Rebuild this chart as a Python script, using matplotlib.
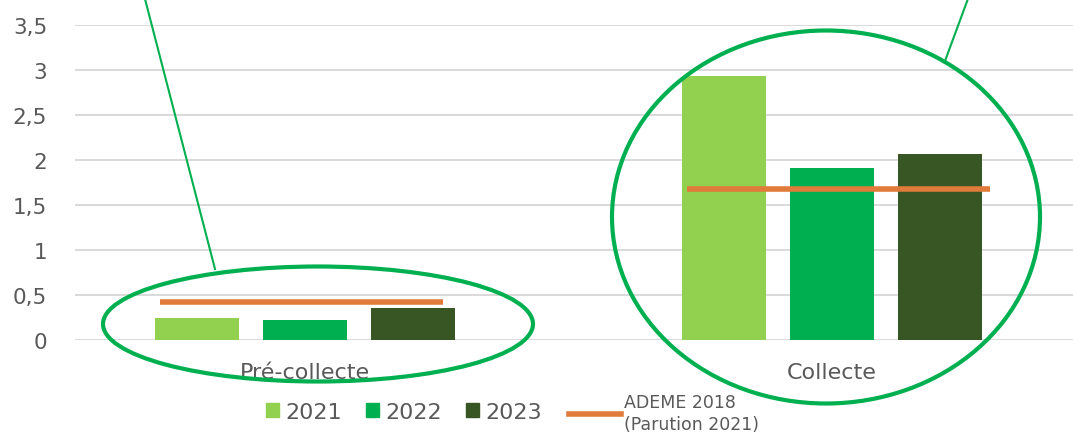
import matplotlib
matplotlib.use("Agg")
import matplotlib.pyplot as plt
from matplotlib.patches import Ellipse, Patch
from matplotlib.lines import Line2D
import numpy as np

categories = ["Pré-collecte", "Collecte"]
years = ["2021", "2022", "2023"]
values_2021 = [0.24, 2.93]
values_2022 = [0.22, 1.91]
values_2023 = [0.36, 2.07]
ademe_2018 = [0.42, 1.68]
ademe_label = "ADEME 2018\n(Parution 2021)"
yticks = [0, 0.5, 1, 1.5, 2, 2.5, 3, 3.5]
ytick_labels = ["0", "0,5", "1", "1,5", "2", "2,5", "3", "3,5"]

colors = ["#92D050", "#00B050", "#375623"]
orange = "#E07B39"
gray = "#595959"

W, H = 1073, 435
fig = plt.figure(figsize=(W / 100, H / 100), dpi=100)
ax = fig.add_axes([75 / W, (H - 341) / H, (W - 75) / W, (341 - 26) / H])

x = np.arange(len(categories))
width = 0.16
offsets = [-0.205, 0.0, 0.205]
series = [values_2021, values_2022, values_2023]
for s, off, c, lab in zip(series, offsets, colors, years):
    ax.bar(x + off, s, width, color=c, label=lab, zorder=2)

line_extent = [(-0.275, 0.262), (-0.275, 0.30)]
for xi, v, (l, r) in zip(x, ademe_2018, line_extent):
    ax.hlines(v, xi + l, xi + r, color=orange, lw=4, zorder=3)

ax.set_ylim(0, 3.5)
ax.set_xlim((75 - 305) / 527, (W - 305) / 527)
ax.set_yticks(yticks)
ax.set_yticklabels(ytick_labels, color=gray, fontsize=15.5)
ax.set_xticks(x)
ax.set_xticklabels(categories, color=gray, fontsize=16)
ax.tick_params(length=0, axis="y", pad=20)
ax.tick_params(length=0, axis="x", pad=16)
ax.grid(axis="y", color="#D9D9D9", lw=1.4, zorder=0)
for sp in ax.spines.values():
    sp.set_visible(False)

# legends
h1 = [Patch(color=c) for c in colors]
leg1 = fig.legend(h1, years, loc="center", ncol=3,
                  bbox_to_anchor=(404 / W, (H - 413) / H), frameon=False,
                  fontsize=16, handlelength=0.6, handleheight=0.6,
                  columnspacing=1.05, handletextpad=0.3, labelcolor=gray,
                  borderpad=0, borderaxespad=0)
h2 = [Line2D([], [], color=orange, lw=4)]
leg2 = fig.legend(h2, [ademe_label], loc="center",
                  bbox_to_anchor=(664 / W, (H - 414) / H), frameon=False,
                  fontsize=12.5, handlelength=3.0, handletextpad=0.15,
                  labelcolor=gray, borderpad=0, borderaxespad=0)
for t in leg2.get_texts():
    t.set_linespacing(1.3)

# annotation overlay (pixel coords)
ov = fig.add_axes([0, 0, 1, 1], facecolor="none")
ov.set_xlim(0, W)
ov.set_ylim(H, 0)
ov.axis("off")
ov.add_patch(Ellipse((318, 325), 430, 115, fill=False, ec="#00B050", lw=3))
ov.add_patch(Ellipse((826, 218), 428, 373, fill=False, ec="#00B050", lw=3))
ov.plot([145, 215], [0, 270], color="#00B050", lw=1.5)
ov.plot([969, 945], [-3, 62], color="#00B050", lw=1.5)

fig.savefig("out.png", dpi=100)
